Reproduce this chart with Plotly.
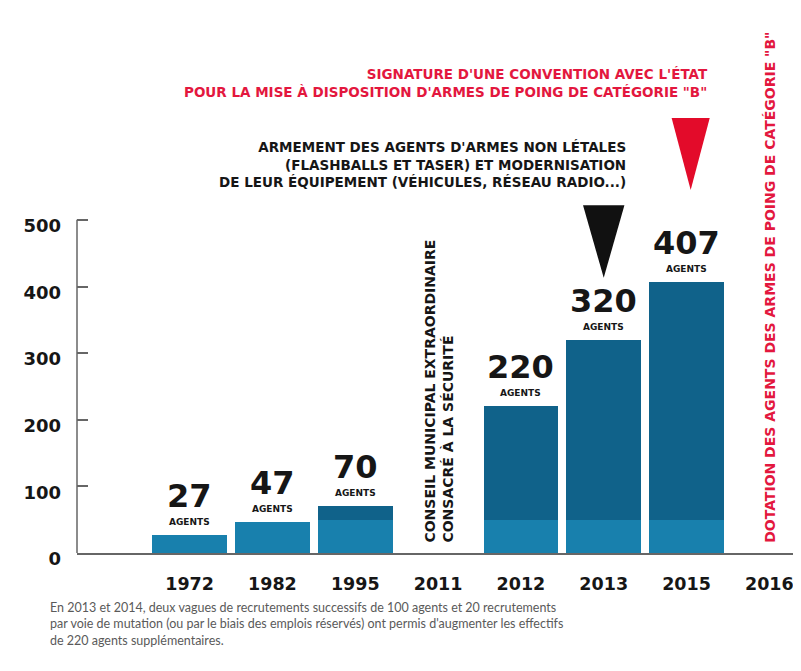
import plotly.graph_objects as go

# ---- data ----
years = ["1972", "1982", "1995", "2011", "2012", "2013", "2015", "2016"]
agents = [27, 47, 70, None, 220, 320, 407, None]
y_ticks = [0, 100, 200, 300, 400, 500]
label_unit = "AGENTS"

event_2011 = "CONSEIL MUNICIPAL EXTRAORDINAIRE<br>CONSACRÉ À LA SÉCURITÉ"
event_2016 = "DOTATION DES AGENTS DES ARMES DE POING DE CATÉGORIE \"B\""
event_2013 = ("ARMEMENT DES AGENTS D'ARMES NON LÉTALES<br>"
              "(FLASHBALLS ET TASER) ET MODERNISATION<br>"
              "DE LEUR ÉQUIPEMENT (VÉHICULES, RÉSEAU RADIO...)")
event_2015 = ("SIGNATURE D'UNE CONVENTION AVEC L'ÉTAT<br>"
              "POUR LA MISE À DISPOSITION D'ARMES DE POING DE CATÉGORIE \"B\"")
footnote = ("En 2013 et 2014, deux vagues de recrutements successifs de 100 agents et 20 recrutements<br>"
            "par voie de mutation (ou par le biais des emplois réservés) ont permis d'augmenter les effectifs<br>"
            "de 220 agents supplémentaires.")

# ---- styles ----
BOLD = "DejaVu Sans"
LIGHT = "Lato"
DARK = "#161616"
RED = "#e3173e"
BAR_DARK = "#10628a"
BAR_LIGHT = "#1880ad"
BASE_SPLIT = 50

xpos = list(range(1, len(years) + 1))
lower = [None if v is None else min(v, BASE_SPLIT) for v in agents]
upper = [None if v is None else v - min(v, BASE_SPLIT) for v in agents]

fig = go.Figure()
fig.add_trace(go.Bar(x=xpos, y=lower, width=0.9, marker=dict(color=BAR_LIGHT, line=dict(width=0)),
                     hoverinfo="skip", showlegend=False))
fig.add_trace(go.Bar(x=xpos, y=upper, width=0.9, marker=dict(color=BAR_DARK, line=dict(width=0)),
                     hoverinfo="skip", showlegend=False))

ann = []
for x, v in zip(xpos, agents):
    if v is None:
        continue
    ann.append(dict(x=x, y=v, xref="x", yref="y", text=f"<b>{v}</b>", showarrow=False,
                    yanchor="middle", yshift=39, font=dict(family=BOLD, size=32, color=DARK)))
    ann.append(dict(x=x, y=v, xref="x", yref="y", text=f"<b>{label_unit}</b>", showarrow=False,
                    yanchor="middle", yshift=13, font=dict(family=BOLD, size=9, color=DARK)))

i2011 = xpos[years.index("2011")]
i2016 = xpos[years.index("2016")]
i2013 = xpos[years.index("2013")]
i2015 = xpos[years.index("2015")]

ann.append(dict(x=i2011, y=0, xref="x", yref="y", text=f"<b>{event_2011}</b>", textangle=-90,
                showarrow=False, align="left", yanchor="bottom", yshift=8,
                font=dict(family=BOLD, size=14, color=DARK)))
ann.append(dict(x=i2016, y=0, xref="x", yref="y", text=f"<b>{event_2016}</b>", textangle=-90,
                showarrow=False, align="left", yanchor="bottom", yshift=8,
                font=dict(family=BOLD, size=14, color=RED)))
ann.append(dict(x=i2013 + 0.29, y=583, xref="x", yref="y", text=f"<b>{event_2013}</b>",
                showarrow=False, align="right", xanchor="right", yanchor="middle",
                font=dict(family=BOLD, size=13.5, color=DARK)))
ann.append(dict(x=i2015 + 0.28, y=706, xref="x", yref="y", text=f"<b>{event_2015}</b>",
                showarrow=False, align="right", xanchor="right", yanchor="middle",
                font=dict(family=BOLD, size=13.5, color=RED)))

ann.append(dict(x=-0.04, y=-0.083, xref="paper", yref="paper", text=footnote, showarrow=False,
                align="left", xanchor="left", yanchor="top",
                font=dict(family=LIGHT, size=12.5, color="#5a5a5a")))

shapes = []
def tri(cx, ytop, ybot, half, color):
    return dict(type="path", xref="x", yref="y",
                path=f"M {cx-half},{ytop} L {cx+half},{ytop} L {cx},{ybot} Z",
                fillcolor=color, line=dict(width=0))

shapes.append(tri(i2013, 522, 413, 0.25, "#111111"))
shapes.append(tri(i2015 + 0.05, 653, 545, 0.23, "#e30b2a"))
shapes.append(dict(type="line", xref="paper", yref="y", x0=0, x1=0, y0=0, y1=y_ticks[-1],
                   line=dict(color="#666666", width=1.5)))

# page has an 8px body margin: figure margins compensate so the plot lands where the reference has it
fig.update_layout(
    width=801, height=671,
    margin=dict(l=69, r=9, t=2, b=126, autoexpand=False),
    paper_bgcolor="white", plot_bgcolor="white",
    barmode="stack", bargap=0,
    annotations=ann, shapes=shapes,
    xaxis=dict(range=[-0.36, 8.37], tickvals=xpos, ticktext=[f"<b>{y}</b>" for y in years],
               showgrid=False, zeroline=False, showline=True, linecolor="#666666", linewidth=1.5,
               ticks="", ticklabelstandoff=14, automargin=False,
               tickfont=dict(family=BOLD, size=17.5, color=DARK)),
    yaxis=dict(range=[0, 815], tickvals=y_ticks, ticktext=[f"<b>{t}</b>" for t in y_ticks],
               showgrid=False, zeroline=False, showline=False, automargin=False,
               ticks="inside", ticklen=11, tickcolor="#666666", tickwidth=1.5,
               ticklabelstandoff=15, ticklabelshift=6,
               tickfont=dict(family=BOLD, size=18, color=DARK)),
)

fig.write_html("out.html")
